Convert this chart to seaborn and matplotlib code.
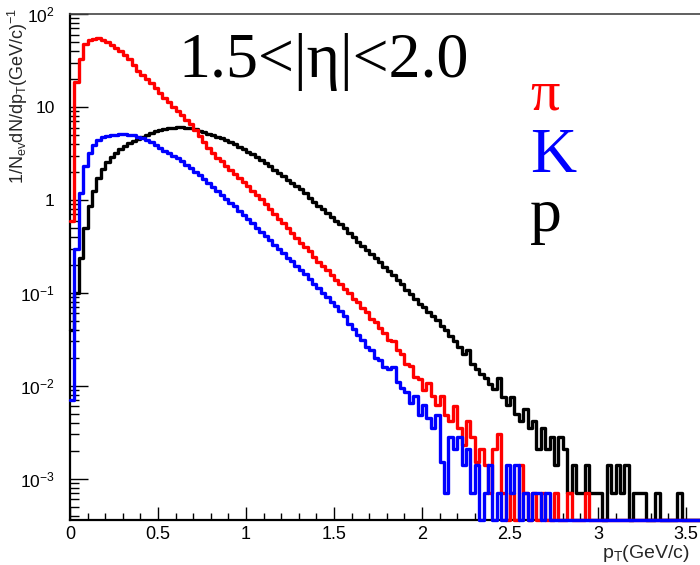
import numpy as np
import pandas as pd
import matplotlib
matplotlib.use("Agg")
import matplotlib.pyplot as plt
from matplotlib.ticker import LogLocator, MultipleLocator, FuncFormatter, NullFormatter
import seaborn as sns

# pT spectra, 1/N_ev dN/dpT per 0.025 GeV/c bin, starting at pT = 0
bin_width = 0.025
n_bins = 144

pion = [
    0.6, 18.5, 33, 48, 52, 54.5, 55, 52.5, 50, 46.5,
    43.5, 40, 36.5, 32.5, 28.5, 24.5, 22, 20, 18, 15.8,
    14, 12.5, 11.2, 10, 9.0, 8.1, 7.3, 6.5, 5.6, 4.9,
    4.2, 3.6, 3.2, 2.85, 2.6, 2.3, 2.08, 1.9, 1.72, 1.55,
    1.4, 1.26, 1.13, 1.02, 0.9, 0.8, 0.71, 0.63, 0.56, 0.5,
    0.44, 0.39, 0.34, 0.31, 0.28, 0.245, 0.215, 0.195, 0.175, 0.155,
    0.138, 0.125, 0.11, 0.1, 0.086, 0.08, 0.068, 0.062, 0.052, 0.049,
    0.042, 0.037, 0.031, 0.03, 0.024, 0.022, 0.017, 0.0165, 0.0125, 0.0118,
    0.009, 0.0108, 0.0078, 0.0062, 0.0077, 0.0049, 0.0042, 0.006, 0.0035, 0.0023,
    0.0042, 0.0028, 0.0015, 0.0021, 0.0014, 0.0007, 0.0021, 0.003, 0.0007, 0.0,
    0.0007, 0.0, 0.0014, 0.0007, 0.0, 0.0007, 0.0, 0.0007, 0.0, 0.0,
    0.0007, 0.0, 0.0, 0.0007, 0.0, 0.0, 0.0, 0.0007,
]

kaon = [
    0.007, 0.3, 1.2, 2.3, 3.2, 3.9, 4.4, 4.7, 4.9, 5.0,
    5.05, 5.1, 5.1, 5.05, 4.95, 4.8, 4.65, 4.4, 4.15, 3.9,
    3.6, 3.4, 3.2, 3.0, 2.8, 2.6, 2.4, 2.2, 2.02, 1.85,
    1.68, 1.52, 1.38, 1.25, 1.14, 1.03, 0.93, 0.85, 0.76, 0.69,
    0.63, 0.56, 0.5, 0.45, 0.41, 0.37, 0.33, 0.3, 0.27, 0.24,
    0.22, 0.195, 0.175, 0.158, 0.14, 0.125, 0.112, 0.1, 0.09, 0.08,
    0.072, 0.064, 0.056, 0.046, 0.041, 0.035, 0.031, 0.026, 0.024, 0.02,
    0.019, 0.016, 0.015, 0.016, 0.011, 0.0095, 0.0085, 0.0065, 0.0077, 0.0048,
    0.0062, 0.0045, 0.0035, 0.0049, 0.0015, 0.0007, 0.0028, 0.0021, 0.0028, 0.0014,
    0.0021, 0.0007, 0.0014, 0.0, 0.0007, 0.0014, 0.0, 0.0007, 0.0, 0.0014,
    0.0007, 0.0014, 0.0, 0.0007, 0.0, 0.0007, 0.0007, 0.0, 0.0007,
]

proton = [
    0.04, 0.1, 0.24, 0.5, 0.85, 1.25, 1.7, 2.15, 2.55, 2.9,
    3.2, 3.5, 3.8, 4.05, 4.3, 4.55, 4.8, 5.0, 5.25, 5.45,
    5.65, 5.8, 5.92, 6.0, 6.05, 6.05, 6.0, 5.88, 5.75, 5.58,
    5.38, 5.18, 4.98, 4.8, 4.6, 4.4, 4.2, 3.95, 3.72, 3.5,
    3.3, 3.1, 2.9, 2.72, 2.5, 2.3, 2.12, 1.95, 1.8, 1.65,
    1.52, 1.4, 1.3, 1.18, 1.06, 0.96, 0.87, 0.8, 0.72, 0.65,
    0.6, 0.55, 0.5, 0.44, 0.4, 0.355, 0.32, 0.29, 0.26, 0.235,
    0.215, 0.19, 0.17, 0.155, 0.138, 0.125, 0.108, 0.097, 0.085, 0.076,
    0.07, 0.062, 0.057, 0.051, 0.044, 0.04, 0.034, 0.03, 0.026, 0.022,
    0.024, 0.017, 0.015, 0.0135, 0.012, 0.0105, 0.0092, 0.012, 0.0075, 0.0062,
    0.0075, 0.005, 0.0042, 0.0056, 0.0035, 0.0042, 0.0021, 0.0035, 0.0021, 0.0028,
    0.0014, 0.0028, 0.0021, 0.0007, 0.0014, 0.0007, 0.0007, 0.0014, 0.0007, 0.0007,
    0.0007, 0.0, 0.0014, 0.0007, 0.0014, 0.0007, 0.0014, 0.0, 0.0007, 0.0007,
    0.0007, 0.0, 0.0, 0.0007, 0.0, 0.0, 0.0, 0.0, 0.0007,
]

species = ["p", "π", "K"]
series = {"p": proton, "π": pion, "K": kaon}
colors = {"π": "#ff0000", "K": "#0000ff", "p": "#000000"}

y_min, y_max = 3.6e-4, 1.0e2
x_max = 3.58

# long table of step vertices: empty bins sit on the lower frame edge
edges = np.arange(n_bins + 1) * bin_width
rows = []
for name in species:
    vals = np.pad(np.asarray(series[name], float), (0, n_bins - len(series[name])))
    shown = np.where(vals > 0, vals, y_min)
    ys = np.append(shown, shown[-1])
    rows.append(pd.DataFrame({"pt": edges, "yield": ys, "species": name}))
df = pd.concat(rows, ignore_index=True)

sns.set_style("ticks")
plt.rcParams["font.family"] = ["Liberation Sans", "DejaVu Sans"]
plt.rcParams["mathtext.fontset"] = "custom"
plt.rcParams["mathtext.rm"] = "Liberation Sans"
plt.rcParams["mathtext.it"] = "Liberation Sans:italic"

fig = plt.figure(figsize=(7.0, 5.65), dpi=100)
ax = fig.add_axes([70 / 700, 45 / 565, 630 / 700, 506 / 565])

sns.lineplot(
    data=df, x="pt", y="yield", hue="species", hue_order=species,
    palette=colors, estimator=None, sort=False, drawstyle="steps-post",
    linewidth=2.4, legend=False, ax=ax, clip_on=False, zorder=5,
)

ax.set_yscale("log")
ax.set_xlim(0, x_max)
ax.set_ylim(y_min, y_max)
ax.set_xlabel("")
ax.set_ylabel("")

# frame
for side in ("left", "bottom"):
    ax.spines[side].set_linewidth(1.6)
    ax.spines[side].set_color("black")
ax.spines["top"].set_linewidth(1.2)
ax.spines["top"].set_color("#444444")
ax.spines["right"].set_visible(False)

# ticks drawn inside the frame
ax.xaxis.set_major_locator(MultipleLocator(0.5))
ax.xaxis.set_minor_locator(MultipleLocator(0.1))
ax.xaxis.set_major_formatter(FuncFormatter(lambda v, p: f"{v:g}"))
ax.yaxis.set_major_locator(LogLocator(base=10, numticks=10))
ax.yaxis.set_minor_locator(LogLocator(base=10, subs=np.arange(2, 10), numticks=20))
ax.yaxis.set_minor_formatter(NullFormatter())


def log_label(v, pos):
    e = int(round(np.log10(v)))
    if e == 0:
        return "1"
    if e == 1:
        return "10"
    return r"$\mathregular{10^{%d}}$" % e


ax.yaxis.set_major_formatter(FuncFormatter(log_label))
ax.tick_params(axis="both", which="both", direction="in", width=1.0,
               colors="black")
ax.tick_params(axis="y", which="major", length=13, pad=11, labelsize=12.5)
ax.tick_params(axis="y", which="minor", length=6.5)
ax.tick_params(axis="x", which="major", length=9.5, pad=4, labelsize=13)
ax.tick_params(axis="x", which="minor", length=5)

# axis titles
fig.text(18 / 700, 1 - 8 / 565,
         r"1/N$_{\mathrm{ev}}$dN/dp$_{\mathrm{T}}$(GeV/c)$^{\mathrm{-1}}$",
         rotation=90, ha="center", va="top", fontsize=13)
fig.text(690 / 700, 0.5 / 565, r"p$_{\mathrm{T}}$(GeV/c)",
         ha="right", va="bottom", fontsize=14)

# pseudorapidity window and species labels
serif = ["Liberation Serif", "DejaVu Serif"]
fig.text(178 / 700, 1 - 77 / 565, "1.5<|η|<2.0", family=serif,
         fontsize=46, ha="left", va="baseline", color="black")
fig.text(530 / 700, 1 - 110 / 565, "π", family=serif, fontsize=42,
         ha="left", va="baseline", color=colors["π"])
fig.text(530 / 700, 1 - 172 / 565, "K", family=serif, fontsize=46,
         ha="left", va="baseline", color=colors["K"])
fig.text(530 / 700, 1 - 231 / 565, "p", family=serif, fontsize=46,
         ha="left", va="baseline", color=colors["p"])

fig.savefig("out.png", dpi=100, facecolor="white")
